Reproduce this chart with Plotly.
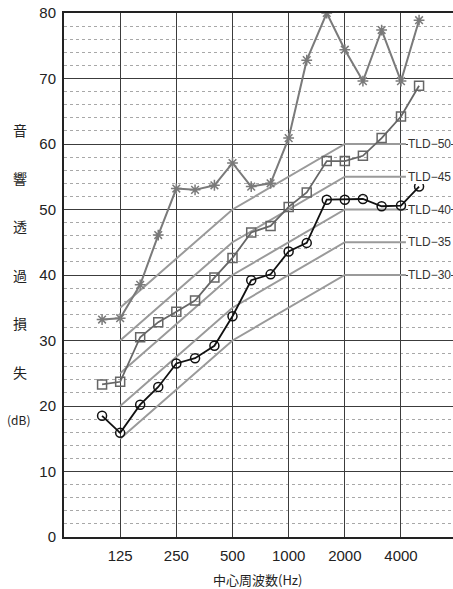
import math
import plotly.graph_objects as go

# 1/3-octave band centre frequencies (Hz)
freqs = [100, 125, 160, 200, 250, 315, 400, 500, 630, 800, 1000, 1250,
         1600, 2000, 2500, 3150, 4000, 5000]

series_circle = [18.5, 15.9, 20.2, 22.9, 26.5, 27.3, 29.2, 33.7, 39.2, 40.1,
                 43.6, 44.9, 51.5, 51.5, 51.6, 50.5, 50.6, 53.5]
series_square = [23.3, 23.7, 30.5, 32.8, 34.4, 36.1, 39.6, 42.6, 46.5, 47.5,
                 50.4, 52.6, 57.4, 57.4, 58.2, 60.9, 64.2, 68.9]
series_star = [33.2, 33.4, 38.5, 46.1, 53.2, 53.0, 53.7, 57.1, 53.5, 54.0,
               60.9, 72.8, 80.0, 74.4, 69.6, 77.4, 69.6, 78.9]

# TLD reference curves
tld_levels = [30, 35, 40, 45, 50]
tld_freqs = [125, 500, 2000, 4250]
tld_offsets = [-15, 0, 10, 10]

x_tick_vals = [125, 250, 500, 1000, 2000, 4000]
x_tick_text = ["125", "250", "500", "1000", "2000", "4000"]
y_tick_vals = [0, 10, 20, 30, 40, 50, 60, 70, 80]

y_title_chars = ["音", "響", "透", "過", "損", "失"]
y_title_pos = [62.1, 54.8, 47.5, 40.0, 32.7, 25.2]

W, H = 453, 589
ML, MR, MT, MB = 64, 0, 13, 52
pw = W - ML - MR
ph = H - MT - MB

fig = go.Figure()

for lvl in tld_levels:
    fig.add_trace(go.Scatter(
        x=tld_freqs, y=[lvl + o for o in tld_offsets], mode="lines",
        line=dict(color="#9a9a9a", width=2), showlegend=False, hoverinfo="skip"))

fig.add_trace(go.Scatter(
    x=freqs, y=series_star, mode="lines+markers",
    line=dict(color="#7a7a7a", width=2),
    marker=dict(symbol="asterisk-open", size=9, color="#7a7a7a",
                line=dict(color="#7a7a7a", width=1.5)),
    showlegend=False))
fig.add_trace(go.Scatter(
    x=freqs, y=series_square, mode="lines+markers",
    line=dict(color="#666666", width=1.8),
    marker=dict(symbol="square-open", size=9, color="#666666",
                line=dict(color="#666666", width=1.5)),
    showlegend=False))
fig.add_trace(go.Scatter(
    x=freqs, y=series_circle, mode="lines+markers",
    line=dict(color="#111111", width=1.8),
    marker=dict(symbol="circle-open", size=9, color="#111111",
                line=dict(color="#111111", width=1.5)),
    showlegend=False))

annotations = []
for lvl in tld_levels:
    annotations.append(dict(
        x=math.log10(tld_freqs[-1]), y=lvl + tld_offsets[-1], xref="x", yref="y",
        text=f"TLD\u2212{lvl}", showarrow=False, xanchor="left", yanchor="middle",
        xshift=2, borderpad=0, borderwidth=0, bgcolor="white",
        font=dict(family="Liberation Sans, Arial, sans-serif",
                  size=12, color="#333333")))

title_x = (20 - ML) / pw
for ch, yv in zip(y_title_chars, y_title_pos):
    annotations.append(dict(
        x=title_x, y=yv, xref="paper", yref="y", text=ch, showarrow=False,
        xanchor="center", yanchor="middle",
        font=dict(family="Noto Sans CJK JP", size=14, color="#222222")))
annotations.append(dict(
    x=(18 - ML) / pw, y=17.9, xref="paper", yref="y", text="(dB)", showarrow=False,
    xanchor="center", yanchor="middle",
    font=dict(family="Noto Sans CJK JP", size=12, color="#222222")))
annotations.append(dict(
    x=(257 - ML) / pw, y=-(579 - (MT + ph)) / ph, xref="paper", yref="paper",
    text="中心周波数(Hz)", showarrow=False, xanchor="center", yanchor="middle",
    font=dict(family="Noto Sans CJK JP", size=13, color="#222222")))

fig.update_layout(
    width=W, height=H,
    margin=dict(l=ML, r=MR, t=MT, b=MB, pad=0),
    paper_bgcolor="white", plot_bgcolor="white",
    annotations=annotations,
    xaxis=dict(
        type="log",
        range=[math.log10(62.5), math.log10(7600)],
        tickvals=x_tick_vals, ticktext=x_tick_text,
        showgrid=True, gridcolor="#3c3c3c", gridwidth=1,
        showline=True, linecolor="#222222", linewidth=2, mirror=True,
        ticks="outside", ticklen=4, tickcolor="rgba(0,0,0,0)",
        tickfont=dict(family="Liberation Sans, Arial, sans-serif", size=15, color="#222222"),
        zeroline=False,
    ),
    yaxis=dict(
        range=[0, 80], tickvals=y_tick_vals,
        showgrid=True, gridcolor="#3c3c3c", gridwidth=1,
        minor=dict(dtick=2, showgrid=True, gridcolor="#a8a8a8", griddash="dot", gridwidth=1),
        showline=True, linecolor="#222222", linewidth=2,
        ticks="outside", ticklen=3, tickcolor="rgba(0,0,0,0)",
        tickfont=dict(family="Liberation Sans, Arial, sans-serif", size=15, color="#222222"),
        zeroline=False,
    ),
)

fig.write_html("out.html", config={"displayModeBar": False},
               post_script="document.body.style.margin='0';")
